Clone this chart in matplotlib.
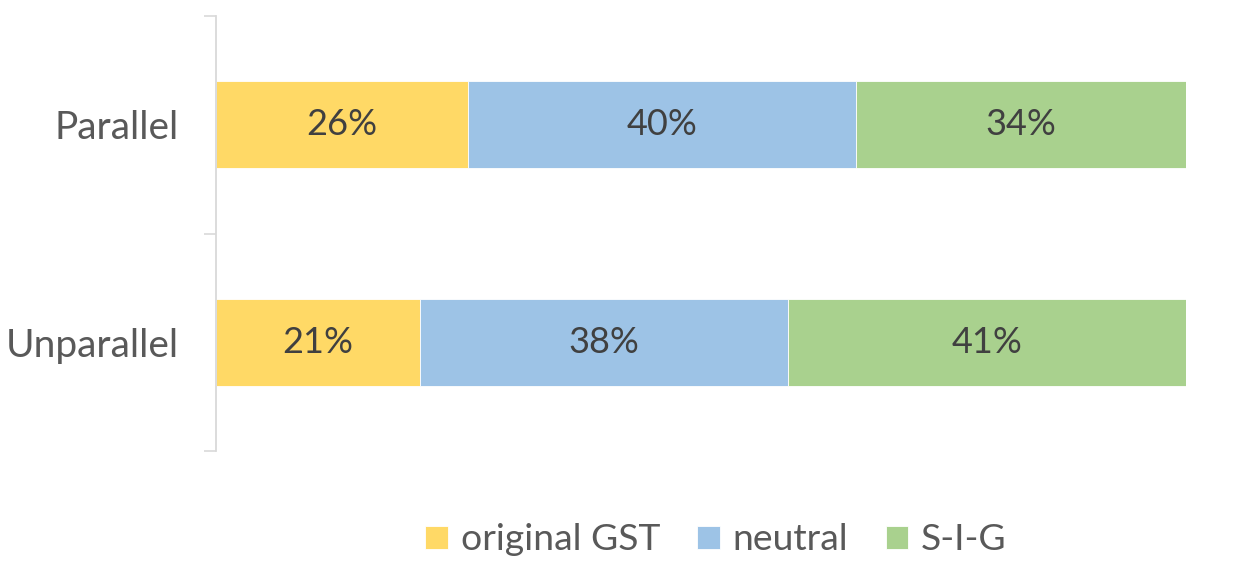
import matplotlib
matplotlib.use("Agg")
import matplotlib.pyplot as plt
import numpy as np

categories = ["Unparallel", "Parallel"]
series_names = ["original GST", "neutral", "S-I-G"]
original_gst = [21, 26]
neutral = [38, 40]
sig = [41, 34]
colors = ["#FFD966", "#9DC3E6", "#A9D18E"]

plt.rcParams['font.family'] = ['Lato', 'DejaVu Sans']

fig = plt.figure(figsize=(12.35, 5.67), dpi=100)
ax = fig.add_axes([216/1235, 1-451/567, 970/1235, 435/567])

y = np.arange(len(categories))
left = np.zeros(len(categories))
for name, vals, c in zip(series_names, [original_gst, neutral, sig], colors):
    vals = np.array(vals, dtype=float)
    ax.barh(y, vals, left=left, height=0.4, color=c, label=name,
            edgecolor='white', linewidth=0.6)
    for yi, l, v in zip(y, left, vals):
        ax.text(l + v/2, yi, f"{int(v)}%", ha='center', va='center',
                fontsize=26, color='#404040')
    left += vals

ax.set_xlim(0, 100)
ax.set_ylim(-0.5, 1.5)
ax.set_yticks(y)
ax.set_yticklabels(categories, fontsize=28, color='#595959')
ax.tick_params(axis='y', which='major', length=0, pad=27)
ax.set_yticks([-0.5, 0.5, 1.5], minor=True)
ax.tick_params(axis='y', which='minor', length=9, width=1.2, color='#D9D9D9')
ax.set_xticks([])
for s in ['top', 'right', 'bottom']:
    ax.spines[s].set_visible(False)
ax.spines['left'].set_color('#D9D9D9')
ax.spines['left'].set_linewidth(1.3)

handles, labels = ax.get_legend_handles_labels()
leg = fig.legend(handles, labels, loc='center', bbox_to_anchor=(716/1235, 1-540/567),
                 ncol=3, frameon=False, fontsize=26.8, handlelength=0.6, handleheight=0.6,
                 handletextpad=0.35, columnspacing=1.0, borderpad=0)
for t in leg.get_texts():
    t.set_color('#595959')

fig.savefig("out.png", dpi=100)
